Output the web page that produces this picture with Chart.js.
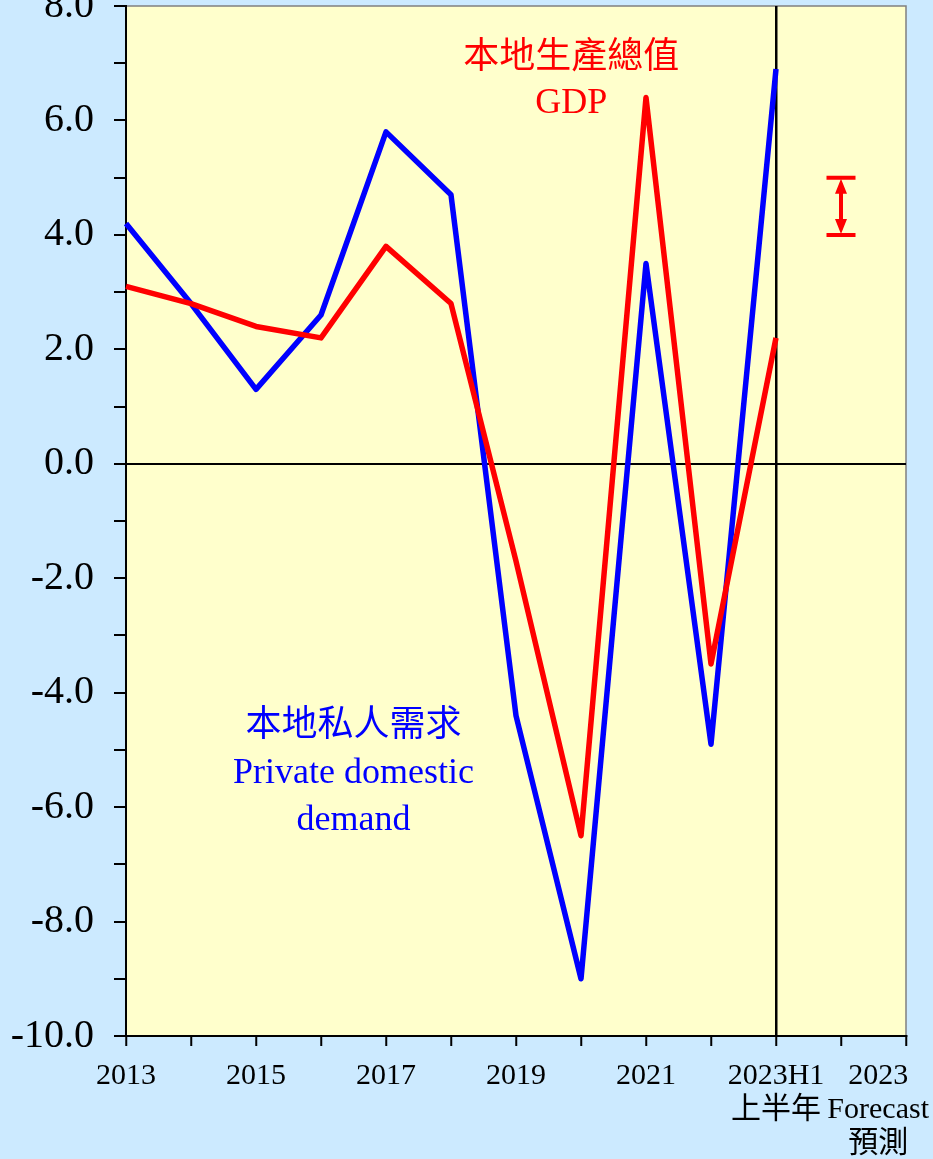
<!DOCTYPE html>
<html>
<head>
<meta charset="utf-8">
<script src="https://cdn.jsdelivr.net/npm/chart.js@4.4.0/dist/chart.umd.min.js"></script>
<style>
  html, body { margin: 0; padding: 0; background: #cceaff; }
  #wrap { width: 933px; height: 1159px; }
</style>
</head>
<body>
<div id="wrap"><canvas id="chart" width="933" height="1159"></canvas></div>
<script>
// categories along the x axis (last two slots: forecast range, end of axis)
const categories = ['2013', '2014', '2015', '2016', '2017', '2018', '2019', '2020', '2021', '2022', '2023H1', '2023F', '2023'];
const gdp = [3.1, 2.8, 2.4, 2.2, 3.8, 2.8, -1.7, -6.5, 6.4, -3.5, 2.2, null, null];
const privateDemand = [4.2, 2.8, 1.3, 2.6, 5.8, 4.7, -4.4, -9.0, 3.5, -4.9, 6.9, null, null];
// 2023 GDP forecast range (low, high)
const forecastRange = [4.0, 5.0];
const xTickLabels = [['2013'], [], ['2015'], [], ['2017'], [], ['2019'], [], ['2021'], [], ['2023H1', '上半年'], [], ['2023', 'Forecast', '預測']];
const gdpLabel = ['本地生產總值', 'GDP'];
const demandLabel = ['本地私人需求', 'Private domestic', 'demand'];

const SERIF = "'Liberation Serif', 'Times New Roman', 'Noto Sans CJK TC', serif";

const backdrop = {
    id: 'backdrop',
    beforeDraw(chart) {
        const {ctx, chartArea: a, width, height} = chart;
        ctx.save();
        ctx.fillStyle = '#cceaff';
        ctx.fillRect(0, 0, width, height);
        ctx.fillStyle = '#ffffcc';
        ctx.fillRect(a.left, a.top, a.right - a.left, a.bottom - a.top);
        ctx.strokeStyle = '#808080';
        ctx.lineWidth = 1.5;
        ctx.beginPath();
        ctx.moveTo(a.left, a.top);
        ctx.lineTo(a.right, a.top);
        ctx.lineTo(a.right, a.bottom);
        ctx.stroke();
        ctx.restore();
    }
};

function drawLines(ctx, lines, x, y, step, color) {
    ctx.fillStyle = color;
    lines.forEach((t, i) => ctx.fillText(t, x, y + i * step));
}

const extras = {
    id: 'extras',
    afterDatasetsDraw(chart) {
        const {ctx, scales: {x: xs, y: ys}} = chart;
        ctx.save();
        // forecast range bar
        const x = xs.getPixelForValue(11);
        const yHi = ys.getPixelForValue(forecastRange[1]);
        const yLo = ys.getPixelForValue(forecastRange[0]);
        ctx.strokeStyle = '#ff0000';
        ctx.fillStyle = '#ff0000';
        ctx.lineWidth = 4;
        ctx.beginPath();
        ctx.moveTo(x - 14.5, yHi); ctx.lineTo(x + 14.5, yHi);
        ctx.moveTo(x - 14.5, yLo); ctx.lineTo(x + 14.5, yLo);
        ctx.stroke();
        ctx.lineWidth = 4;
        ctx.beginPath();
        ctx.moveTo(x, yHi + 12); ctx.lineTo(x, yLo - 12);
        ctx.stroke();
        ctx.beginPath();
        ctx.moveTo(x, yHi + 1); ctx.lineTo(x - 6, yHi + 16); ctx.lineTo(x + 6, yHi + 16); ctx.closePath();
        ctx.moveTo(x, yLo - 1); ctx.lineTo(x - 6, yLo - 16); ctx.lineTo(x + 6, yLo - 16); ctx.closePath();
        ctx.fill();

        // series labels
        ctx.font = '36px ' + SERIF;
        ctx.textAlign = 'center';
        ctx.textBaseline = 'middle';
        drawLines(ctx, gdpLabel, xs.getPixelForValue(6.85), ys.getPixelForValue(7.08), 45, '#ff0000');
        drawLines(ctx, demandLabel, xs.getPixelForValue(3.5), ys.getPixelForValue(-4.6), 47, '#0000ff');
        ctx.restore();
    },
    afterDraw(chart) {
        const {ctx, scales: {x: xs}, width} = chart;
        ctx.save();
        ctx.font = '30px ' + SERIF;
        ctx.fillStyle = '#000';
        ctx.textAlign = 'center';
        ctx.textBaseline = 'middle';
        const top = xs.top + 40;
        xTickLabels.forEach((lines, i) => {
            if (!lines.length) return;
            const widest = Math.max(...lines.map(t => ctx.measureText(t).width));
            const px = Math.min(xs.getPixelForValue(i), width - widest / 2 - 4);
            lines.forEach((t, j) => ctx.fillText(t, px, top + j * 34));
        });
        ctx.restore();
    }
};

const ctx = document.getElementById('chart').getContext('2d');
const myChart = new Chart(ctx, {
    type: 'line',
    data: {
        labels: categories,
        datasets: [{
            label: 'GDP',
            data: gdp,
            borderColor: '#ff0000',
            borderWidth: 5.5,
            pointRadius: 0,
            tension: 0,
            borderJoinStyle: 'round',
            fill: false,
        },
        {
            label: 'Private domestic demand',
            data: privateDemand,
            borderColor: '#0000ff',
            borderWidth: 5.5,
            pointRadius: 0,
            tension: 0,
            borderJoinStyle: 'round',
            fill: false,
        }],
    },
    options: {
        responsive: false,
        animation: false,
        layout: { padding: { left: 0, top: 6, right: 27, bottom: 0 } },
        plugins: { legend: { display: false }, tooltip: { enabled: false } },
        scales: {
            x: {
                type: 'category',
                offset: false,
                border: { color: '#000', width: 2 },
                grid: {
                    offset: false,
                    color: c => c.index === 10 ? '#000' : 'rgba(0,0,0,0)',
                    lineWidth: 2.5,
                    tickColor: '#000',
                    tickWidth: 2,
                    tickLength: 10,
                },
                ticks: { display: false, autoSkip: false },
                afterFit(s) { s.height = 123; }
            },
            y: {
                min: -10,
                max: 8,
                border: { color: '#000', width: 2 },
                grid: {
                    color: c => c.tick && c.tick.value === 0 ? '#000' : 'rgba(0,0,0,0)',
                    lineWidth: 2,
                    tickColor: '#000',
                    tickWidth: 2,
                    tickLength: 12,
                },
                ticks: {
                    stepSize: 1,
                    autoSkip: false,
                    padding: 20,
                    color: '#000',
                    font: { family: SERIF, size: 40 },
                    callback: v => v % 2 === 0 ? v.toFixed(1) : ''
                },
                afterFit(s) { s.width = 126; s.paddingTop = 0; s.paddingBottom = 0; }
            }
        }
    },
    plugins: [backdrop, extras]
});
</script>
</body>
</html>
